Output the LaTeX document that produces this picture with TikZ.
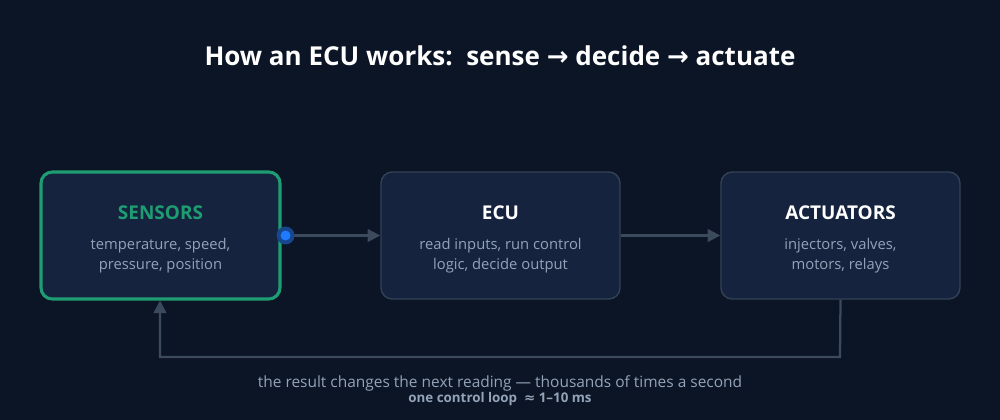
\documentclass[tikz,border=0pt]{standalone}
\usepackage{fontspec}
\setmainfont{Open Sans}
\newfontfamily\symfont{DejaVu Sans}
\usetikzlibrary{positioning,arrows.meta}
\definecolor{bgcol}{HTML}{0B1526}
\definecolor{boxfill}{HTML}{15233F}
\definecolor{boxline}{HTML}{334155}
\definecolor{greencol}{HTML}{1F9D72}
\definecolor{subtext}{HTML}{94A3B8}
\definecolor{arrowcol}{HTML}{3B4A5C}
\definecolor{dotcol}{HTML}{1E7BFF}
\tikzset{
  stage/.style={draw=boxline, line width=1pt, fill=boxfill, rounded corners=8pt,
    minimum width=239\px, minimum height=127\px, inner sep=0pt},
  flow/.style={draw=arrowcol, line width=1.6pt, -{Triangle[length=9pt,width=9pt]}},
  head/.style={font=\bfseries\fontsize{13.5}{16}\selectfont, text=white},
  body/.style={font=\fontsize{10.5}{14}\selectfont, text=subtext, align=center}
}
\newlength{\px}\setlength{\px}{0.025cm}
\begin{document}
\begin{tikzpicture}[x=0.025cm, y=-0.025cm]

% Background
\fill[bgcol] (0,0) rectangle (1000,420);
\useasboundingbox (0,0) rectangle (1000,420);

% Title
\node[font=\bfseries\fontsize{18.5}{22}\selectfont, text=white] (title) at (500,56)
  {How an ECU works:\ \ sense {\symfont→} decide {\symfont→} actuate};

% Stages
\node[stage, draw=greencol, line width=2.2pt] (sensors) at (160.5,235.5) {};
\node[stage] (ecu) at (500.5,235.5) {};
\node[stage] (act) at (840.5,235.5) {};

\node[head, text=greencol] (sensorsT) at (160.5,213) {SENSORS};
\node[body] (sensorsB) at (160.5,256) {temperature, speed,\\pressure, position};
\node[head] (ecuT) at (500.5,213) {ECU};
\node[body] (ecuB) at (500.5,256) {read inputs, run control\\logic, decide output};
\node[head] (actT) at (840.5,213) {ACTUATORS};
\node[body] (actB) at (840.5,256) {injectors, valves,\\motors, relays};

% Connectors
\draw[flow] (sensors.east) -- (ecu.west);
\draw[flow] (ecu.east) -- (act.west);
\coordinate (loopR) at (840,357);
\coordinate (loopL) at (160,357);
\draw[flow] (act.south) -- (loopR) -- (loopL) -- (sensors.south -| loopL);

% Active dot
\fill[dotcol!40!boxfill] (sensors.east) ++(4,0) circle (9);
\fill[dotcol] (sensors.east) ++(4,0) circle (5);

% Caption
\node[font=\fontsize{11}{12}\selectfont, text=subtext] (cap) at (500,383)
  {the result changes the next reading --- thousands of times a second};
\node[font=\bfseries\fontsize{9.5}{11}\selectfont, text=subtext] (loop) at (500,399)
  {one control loop \ {\symfont≈} 1--10 ms};

\end{tikzpicture}
\end{document}
